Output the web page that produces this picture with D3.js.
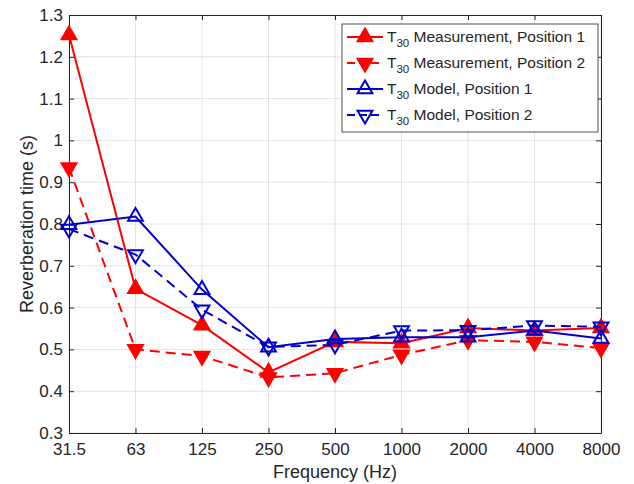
<!DOCTYPE html>
<html>
<head>
<meta charset="utf-8">
<script src="https://cdn.jsdelivr.net/npm/d3@7"></script>
<style>
  body { margin: 0; background: #fff; }
  svg text { font-family: "Liberation Sans", Arial, Helvetica, sans-serif; fill: #262626; }
</style>
</head>
<body>
<svg id="chart" width="634" height="484"></svg>
<script>
// data
let freqs = ["31.5", "63", "125", "250", "500", "1000", "2000", "4000", "8000"];
let meas1 = [1.252, 0.645, 0.558, 0.445, 0.518, 0.515, 0.551, 0.545, 0.551];
let meas2 = [0.935, 0.500, 0.484, 0.433, 0.443, 0.487, 0.522, 0.518, 0.503];
let model1 = [0.798, 0.818, 0.643, 0.505, 0.525, 0.529, 0.529, 0.545, 0.526];
let model2 = [0.788, 0.727, 0.595, 0.506, 0.511, 0.545, 0.546, 0.557, 0.554];
let yTicks = [0.3, 0.4, 0.5, 0.6, 0.7, 0.8, 0.9, 1, 1.1, 1.2, 1.3];

let red = "#ff0000";
let blue = "#0000cc";

let series = [
    { name: "Measurement, Position 1", values: meas1, color: red, dash: null, up: true, filled: true },
    { name: "Measurement, Position 2", values: meas2, color: red, dash: "10,6", up: false, filled: true },
    { name: "Model, Position 1", values: model1, color: blue, dash: null, up: true, filled: false },
    { name: "Model, Position 2", values: model2, color: blue, dash: "10,6", up: false, filled: false }
];

// plot box
let pLeft = 69, pRight = 601, pTop = 15, pBottom = 433;
let svg = d3.select("#chart");

let x = d3.scalePoint().domain(freqs).range([pLeft, pRight]).padding(0);
let y = d3.scaleLinear().domain([0.3, 1.3]).range([pBottom, pTop]);

// grid
let grid = svg.append("g");
grid.selectAll(".gx").data(freqs).join("line")
    .attr("x1", d => x(d)).attr("x2", d => x(d))
    .attr("y1", pTop).attr("y2", pBottom)
    .attr("stroke", "#e3e3e3").attr("stroke-width", 1);
grid.selectAll(".gy").data(yTicks).join("line")
    .attr("x1", pLeft).attr("x2", pRight)
    .attr("y1", d => y(d)).attr("y2", d => y(d))
    .attr("stroke", "#e3e3e3").attr("stroke-width", 1);

// axes (ticks inside, on all four sides)
let tl = 5;
svg.append("g").attr("transform", "translate(0," + pBottom + ")")
    .call(d3.axisBottom(x).tickSizeInner(-tl).tickSizeOuter(0).tickPadding(10));
svg.append("g").attr("transform", "translate(" + pLeft + ",0)")
    .call(d3.axisLeft(y).tickValues(yTicks).tickFormat(d => String(d)).tickSizeInner(-tl).tickSizeOuter(0).tickPadding(6));
svg.append("g").attr("transform", "translate(0," + pTop + ")")
    .call(d3.axisTop(x).tickSizeInner(-tl).tickSizeOuter(0).tickFormat(""));
svg.append("g").attr("transform", "translate(" + pRight + ",0)")
    .call(d3.axisRight(y).tickValues(yTicks).tickSizeInner(-tl).tickSizeOuter(0).tickFormat(""));

svg.selectAll(".domain").attr("stroke", "#262626").attr("stroke-width", 1);
svg.selectAll(".tick line").attr("stroke", "#262626");
svg.selectAll(".tick text").style("font-size", "17px").attr("fill", "#262626");

// axis labels
svg.append("text").attr("x", (pLeft + pRight) / 2).attr("y", 478)
    .attr("text-anchor", "middle").style("font-size", "18px").text("Frequency (Hz)");
svg.append("text").attr("transform", "translate(33," + ((pTop + pBottom) / 2) + ") rotate(-90)")
    .attr("text-anchor", "middle").style("font-size", "18px").text("Reverberation time (s)");

// lines and markers
let line = d3.line().x((d, i) => x(freqs[i])).y(d => y(d));
let tri = d3.symbol().type(d3.symbolTriangle).size(95);

function marker(g, s, cx, cy) {
    g.append("path")
        .attr("d", tri())
        .attr("transform", "translate(" + cx + "," + cy + ")" + (s.up ? "" : " rotate(180)"))
        .attr("fill", s.filled ? s.color : "none")
        .attr("stroke", s.color).attr("stroke-width", 2);
}

series.forEach(s => {
    let g = svg.append("g");
    g.append("path").datum(s.values)
        .attr("d", line).attr("fill", "none")
        .attr("stroke", s.color).attr("stroke-width", 2)
        .attr("stroke-dasharray", s.dash);
    s.values.forEach((v, i) => marker(g, s, x(freqs[i]), y(v)));
});

// legend
let lg = svg.append("g");
lg.append("rect").attr("x", 342).attr("y", 24).attr("width", 256).attr("height", 108)
    .attr("fill", "#fff").attr("stroke", "#262626").attr("stroke-width", 0.8);
series.forEach((s, i) => {
    let ry = 37 + i * 26;
    lg.append("line").attr("x1", 347).attr("x2", 383).attr("y1", ry).attr("y2", ry)
        .attr("stroke", s.color).attr("stroke-width", 2)
        .attr("stroke-dasharray", s.dash ? "8,4" : null);
    marker(lg, s, 365, ry);
    let t = lg.append("text").attr("x", 387).attr("y", ry + 5).style("font-size", "15.5px");
    t.append("tspan").text("T");
    t.append("tspan").attr("dy", 5).style("font-size", "11.5px").text("30");
    t.append("tspan").attr("dy", -5).text(" " + s.name);
});
</script>
</body>
</html>
